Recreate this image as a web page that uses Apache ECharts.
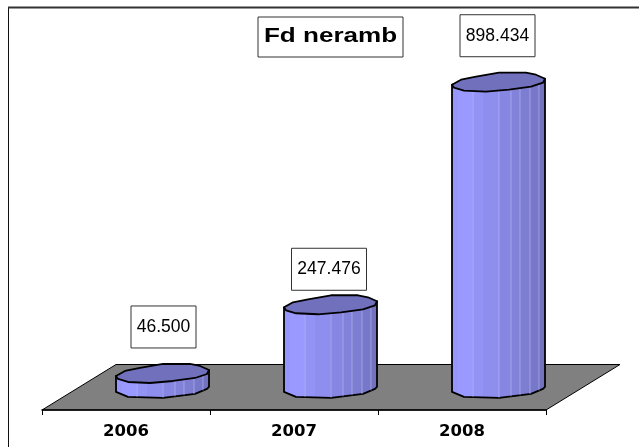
<!DOCTYPE html>
<html lang="en">
<head>
<meta charset="UTF-8">
<title>Fd neramb</title>
<style type="text/css">
    html,body{
        margin: 0;
        height: 100%;
        background-color: #fff;
    }
    #chart{
        width: 639px;
        height: 447px;
    }
</style>
</head>
<body>
<div id="chart"></div>
<script src="https://cdn.jsdelivr.net/npm/echarts@6/dist/echarts.min.js"></script>
<script>
var categories = ['2006', '2007', '2008'];
var values = [46.5, 247.476, 898.434];
var titleText = 'Fd neramb';

// label box placement for each bar, relative to the top of the cylinder
var labelDy = [-49, -38, -49];
var labelDx = [0.5, -2, -1.5];
var labelW = [65, 75, 75];

// cylinder outline, px from the left edge of the cylinder
var topFace = [[0,0],[9,-5],[24,-8],[47,-12],[74,-12],[84,-10],[93,-6],[91,-2],[79,2],[57,5],[34,7],[12,6],[2,3]];
var frontTop = [[0,0],[2,3],[12,6],[34,7],[57,5],[79,2],[91,-2],[93,-6]];
var frontBottom = [[93,-5],[91,-3],[79,2],[47,6],[12,5],[0,0]];
var stripEdges = [0, 7, 21, 32, 47, 59, 68, 78, 87, 94];
var stripColors = ['#9797fb', '#9999ff', '#9393f6', '#8e8eee', '#8787e3', '#8282da', '#7d7dd2', '#7878ca', '#7272bf'];
var lineAt = [21, 47, 59, 68, 78, 87];

function curveY(curve, x) {
    for (var i = 0; i < curve.length - 1; i++) {
        var a = curve[i], b = curve[i + 1];
        if (x >= Math.min(a[0], b[0]) && x <= Math.max(a[0], b[0]) && a[0] !== b[0]) {
            return a[1] + (b[1] - a[1]) * (x - a[0]) / (b[0] - a[0]);
        }
    }
    return 0;
}

function stripGradient() {
    var stops = [];
    for (var i = 0; i < stripColors.length; i++) {
        stops.push({offset: stripEdges[i] / 94, color: stripColors[i]});
        stops.push({offset: stripEdges[i + 1] / 94, color: stripColors[i]});
    }
    return new echarts.graphic.LinearGradient(0, 0, 1, 0, stops);
}

function renderFloor(params) {
    var c = params.coordSys;
    var bottom = c.y + c.height;
    return {
        type: 'polygon',
        shape: {points: [
            [c.x, bottom],
            [c.x + 74, bottom - 45.5],
            [c.x + c.width + 74, bottom - 45.5],
            [c.x + c.width, bottom]
        ]},
        style: {fill: '#808080', stroke: '#000', lineWidth: 1}
    };
}

function renderCylinder(params, api) {
    var i = api.value(0);
    var x = api.coord([i, 0])[0] - 10;
    var y0 = api.coord([i, 0])[1];
    var y1 = api.coord([i, api.value(1)])[1];
    var side = [];
    frontTop.slice(0, 1).concat([[93, -6]]).forEach(function (p) {
        side.push([x + p[0], y1 + p[1]]);
    });
    frontBottom.forEach(function (p) {
        side.push([x + p[0], y0 + p[1]]);
    });
    var children = [{
        type: 'polygon',
        shape: {points: side},
        style: {fill: stripGradient(), stroke: '#000', lineWidth: 1.8, lineJoin: 'round'}
    }];
    lineAt.forEach(function (lx) {
        children.push({
            type: 'line',
            shape: {
                x1: x + lx, y1: y1 + curveY(frontTop, lx),
                x2: x + lx, y2: y0 + curveY(frontBottom, lx)
            },
            style: {stroke: 'rgba(205,205,255,0.45)', lineWidth: 1}
        });
    });
    children.push({
        type: 'polygon',
        shape: {points: topFace.map(function (p) {
            return [x + p[0], y1 + p[1]];
        })},
        style: {fill: '#7070bc', stroke: '#000', lineWidth: 1.8, lineJoin: 'round'}
    });
    var cx = x + 47 + labelDx[i];
    var cy = y1 + labelDy[i];
    children.push({
        type: 'rect',
        shape: {x: cx - labelW[i] / 2, y: cy - 21, width: labelW[i], height: 42},
        style: {fill: '#fff', stroke: '#333', lineWidth: 1}
    });
    children.push({
        type: 'text',
        style: {
            text: api.value(1).toFixed(3),
            x: cx, y: cy,
            align: 'center', verticalAlign: 'middle',
            fontFamily: '"Liberation Sans"', fontSize: 17.5, fill: '#000'
        }
    });
    return {type: 'group', children: children};
}

var chart = echarts.init(document.getElementById('chart'));
chart.setOption({
    animation: false,
    backgroundColor: '#fff',
    graphic: [
        // the frame only shows on the left and top, it runs off the page on the other sides
        {
            type: 'line',
            shape: {x1: 8.5, y1: 7, x2: 8.5, y2: 447},
            style: {stroke: '#111', lineWidth: 1},
            z: -1
        },
        {
            type: 'line',
            shape: {x1: 8, y1: 7.5, x2: 639, y2: 7.5},
            style: {stroke: '#333', lineWidth: 2},
            z: -1
        },
        {
            type: 'rect',
            shape: {x: 258, y: 17, width: 145, height: 40},
            style: {fill: '#fff', stroke: '#333', lineWidth: 1}
        },
        {
            type: 'text',
            x: 330.5, y: 36,
            scaleX: 1.24,
            style: {
                text: titleText,
                x: 0, y: 0,
                align: 'center', verticalAlign: 'middle',
                fontFamily: '"Liberation Sans"', fontWeight: 'bold', fontSize: 21, fill: '#000'
            }
        }
    ],
    grid: {left: 42, right: 93, top: 50, height: 360},
    xAxis: {
        type: 'category',
        data: categories,
        axisLine: {onZero: false, lineStyle: {color: '#000', width: 1.5}},
        axisTick: {show: true, length: 5, lineStyle: {color: '#000'}},
        axisLabel: {
            fontFamily: '"DejaVu Sans"', fontWeight: 'bold', fontSize: 16.5,
            color: '#000', margin: 13
        },
        z: 5
    },
    yAxis: {
        type: 'value',
        show: false,
        min: -53,
        max: 1000
    },
    series: [
        {
            type: 'custom',
            renderItem: renderFloor,
            data: [[0, 0]],
            silent: true,
            z: 1
        },
        {
            type: 'custom',
            renderItem: renderCylinder,
            clip: false,
            encode: {x: 0, y: 1},
            data: values.map(function (v, i) { return [i, v]; }),
            z: 2
        }
    ]
});
</script>
</body>
</html>
